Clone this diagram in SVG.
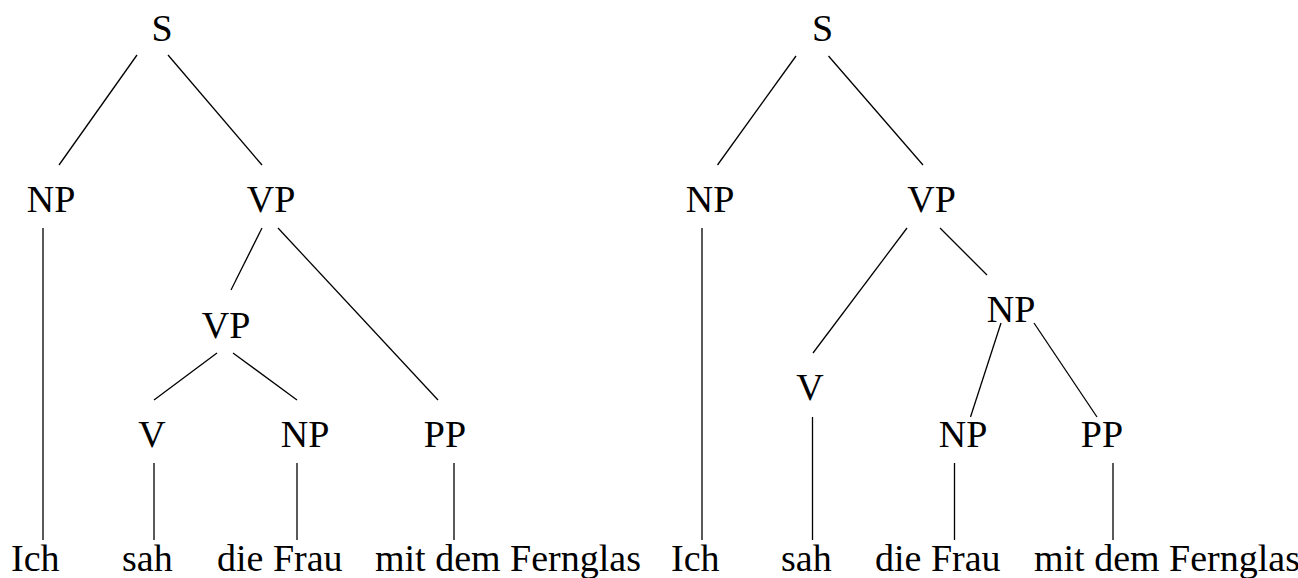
<svg xmlns="http://www.w3.org/2000/svg" width="1298" height="578" viewBox="0 0 1298 578">
<style>
text{font-family:"Liberation Serif","Times New Roman",serif;font-size:38px;fill:#000}
.c{text-anchor:middle}
line{stroke:#000;stroke-width:1.3}
</style>
<rect width="1298" height="578" fill="#fff"/>
<g id="connectors">
<line x1="137" y1="55" x2="59" y2="165"/>
<line x1="168" y1="55" x2="262" y2="165"/>
<line x1="43" y1="228" x2="43" y2="540"/>
<line x1="262" y1="228" x2="231" y2="290"/>
<line x1="278" y1="228" x2="438" y2="400"/>
<line x1="217" y1="353" x2="154" y2="400"/>
<line x1="233" y1="353" x2="297" y2="400"/>
<line x1="154" y1="463" x2="154" y2="540"/>
<line x1="297" y1="463" x2="297" y2="540"/>
<line x1="454" y1="463" x2="454" y2="540"/>
<line x1="796" y1="56" x2="717.5" y2="165"/>
<line x1="828.5" y1="56" x2="923" y2="165"/>
<line x1="702" y1="228" x2="702" y2="540"/>
<line x1="907" y1="228" x2="813" y2="353"/>
<line x1="940" y1="228" x2="987" y2="275"/>
<line x1="1001" y1="323" x2="970.5" y2="417"/>
<line x1="1034" y1="323" x2="1097" y2="417"/>
<line x1="812.5" y1="417" x2="812.5" y2="540"/>
<line x1="954.5" y1="463" x2="954.5" y2="540"/>
<line x1="1113" y1="463" x2="1113" y2="540"/>
</g>
<g id="l-S"><text class="c" x="162" y="41">S</text></g>
<g id="l-NP"><text class="c" x="51" y="212">NP</text></g>
<g id="l-VP"><text class="c" x="271" y="212">VP</text></g>
<g id="l-VP2"><text class="c" x="226" y="338">VP</text></g>
<g id="l-V"><text class="c" x="152" y="447">V</text></g>
<g id="l-NP2"><text class="c" x="305" y="447">NP</text></g>
<g id="l-PP"><text class="c" x="445" y="447">PP</text></g>
<g id="l-w1"><text x="11" y="571">Ich</text></g>
<g id="l-w2"><text x="122" y="571">sah</text></g>
<g id="l-w3"><text x="217" y="571">die Frau</text></g>
<g id="l-w4"><text x="375" y="571">mit dem Fernglas</text></g>
<g id="r-S"><text class="c" x="822.5" y="41">S</text></g>
<g id="r-NP"><text class="c" x="710" y="212">NP</text></g>
<g id="r-VP"><text class="c" x="931.5" y="212">VP</text></g>
<g id="r-NP2"><text class="c" x="1011" y="322">NP</text></g>
<g id="r-V"><text class="c" x="810" y="400">V</text></g>
<g id="r-NP3"><text class="c" x="963" y="447">NP</text></g>
<g id="r-PP"><text class="c" x="1102" y="447">PP</text></g>
<g id="r-w1"><text x="671" y="571">Ich</text></g>
<g id="r-w2"><text x="781" y="571">sah</text></g>
<g id="r-w3"><text x="875" y="571">die Frau</text></g>
<g id="r-w4"><text x="1034" y="571">mit dem Fernglas</text></g>
</svg>
